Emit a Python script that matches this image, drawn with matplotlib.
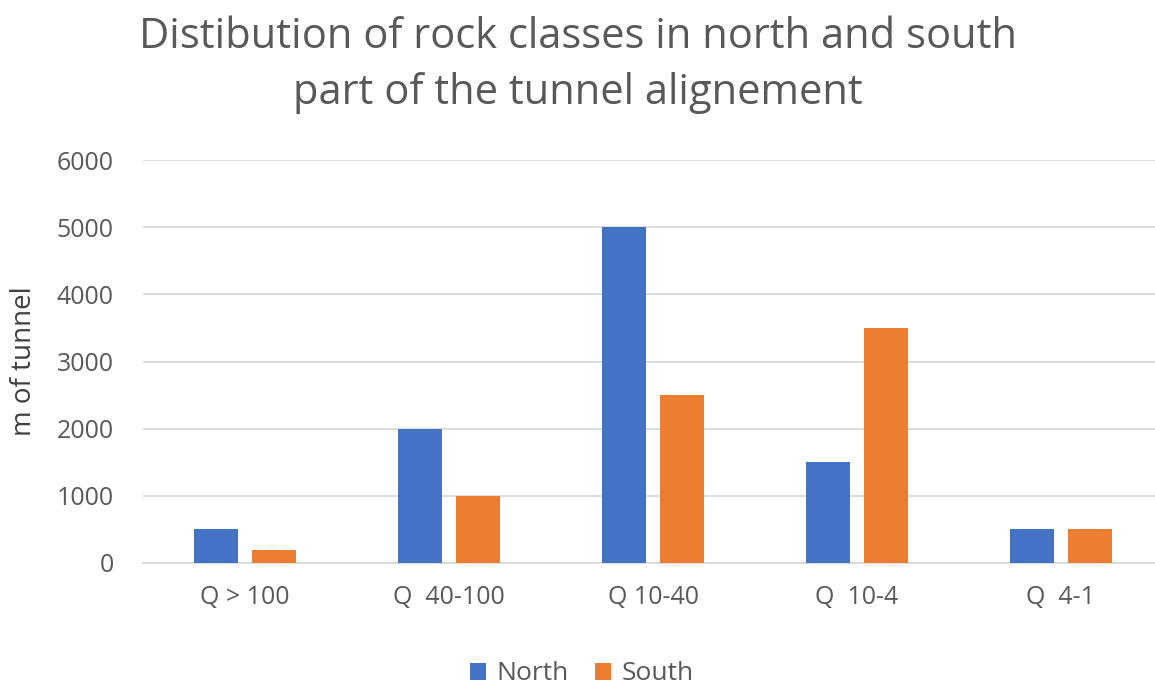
import matplotlib.pyplot as plt
import numpy as np

# Rock class distribution along the tunnel (metres)
CATEGORIES = ["Q > 100", "Q  40-100", "Q 10-40", "Q  10-4", "Q  4-1"]
NORTH = [500, 2000, 5000, 1500, 500]
SOUTH = [200, 1000, 2500, 3500, 500]

TEXT = "#595959"
GRID = "#D9D9D9"
BLUE = "#4472C4"
ORANGE = "#ED7D31"

plt.rcParams["font.family"] = ["Open Sans", "DejaVu Sans"]

W, H = 1155, 686
fig = plt.figure(figsize=(W / 100, H / 100), dpi=100)
# plot area runs past the right edge, as in the original sheet export
ax = fig.add_axes([143 / W, 1 - 563 / H, 1020 / W, (563 - 160) / H])

x = np.arange(len(CATEGORIES))
width = 0.216
gap = 0.069
ax.bar(x - (width + gap) / 2, NORTH, width, color=BLUE, label="North", zorder=3)
ax.bar(x + (width + gap) / 2, SOUTH, width, color=ORANGE, label="South", zorder=3)

ax.set_xlim(-0.5, len(CATEGORIES) - 0.5)
ax.set_ylim(0, 6000)
ax.set_yticks(range(0, 6001, 1000))
ax.yaxis.grid(True, color=GRID, linewidth=1.3, zorder=0)
ax.set_xticks(x)
ax.set_xticklabels(CATEGORIES)
ax.tick_params(axis="both", length=0, colors=TEXT, labelsize=18)
ax.tick_params(axis="x", pad=16)
ax.tick_params(axis="y", pad=21)
for side in ["top", "right", "left"]:
    ax.spines[side].set_visible(False)
ax.spines["bottom"].set_color(GRID)
ax.spines["bottom"].set_linewidth(1.3)

fig.text(24 / W, 1 - 361 / H, "m of tunnel", rotation=90, ha="center", va="center",
         fontsize=20, color="#404040")

# two-line title, each line placed on its own baseline
fig.text(578 / W, 1 - 48 / H, "Distibution of rock classes in north and south",
         ha="center", va="baseline", fontsize=30, color=TEXT)
fig.text(578 / W, 1 - 104 / H, "part of the tunnel alignement",
         ha="center", va="baseline", fontsize=30, color=TEXT)

fig.legend(loc="center", ncol=2, frameon=False, fontsize=19,
           bbox_to_anchor=(582 / W, 1 - 674 / H), handlelength=0.6, handleheight=0.6,
           columnspacing=1.0, handletextpad=0.4, labelcolor=TEXT)

fig.savefig("out.png", dpi=100)
